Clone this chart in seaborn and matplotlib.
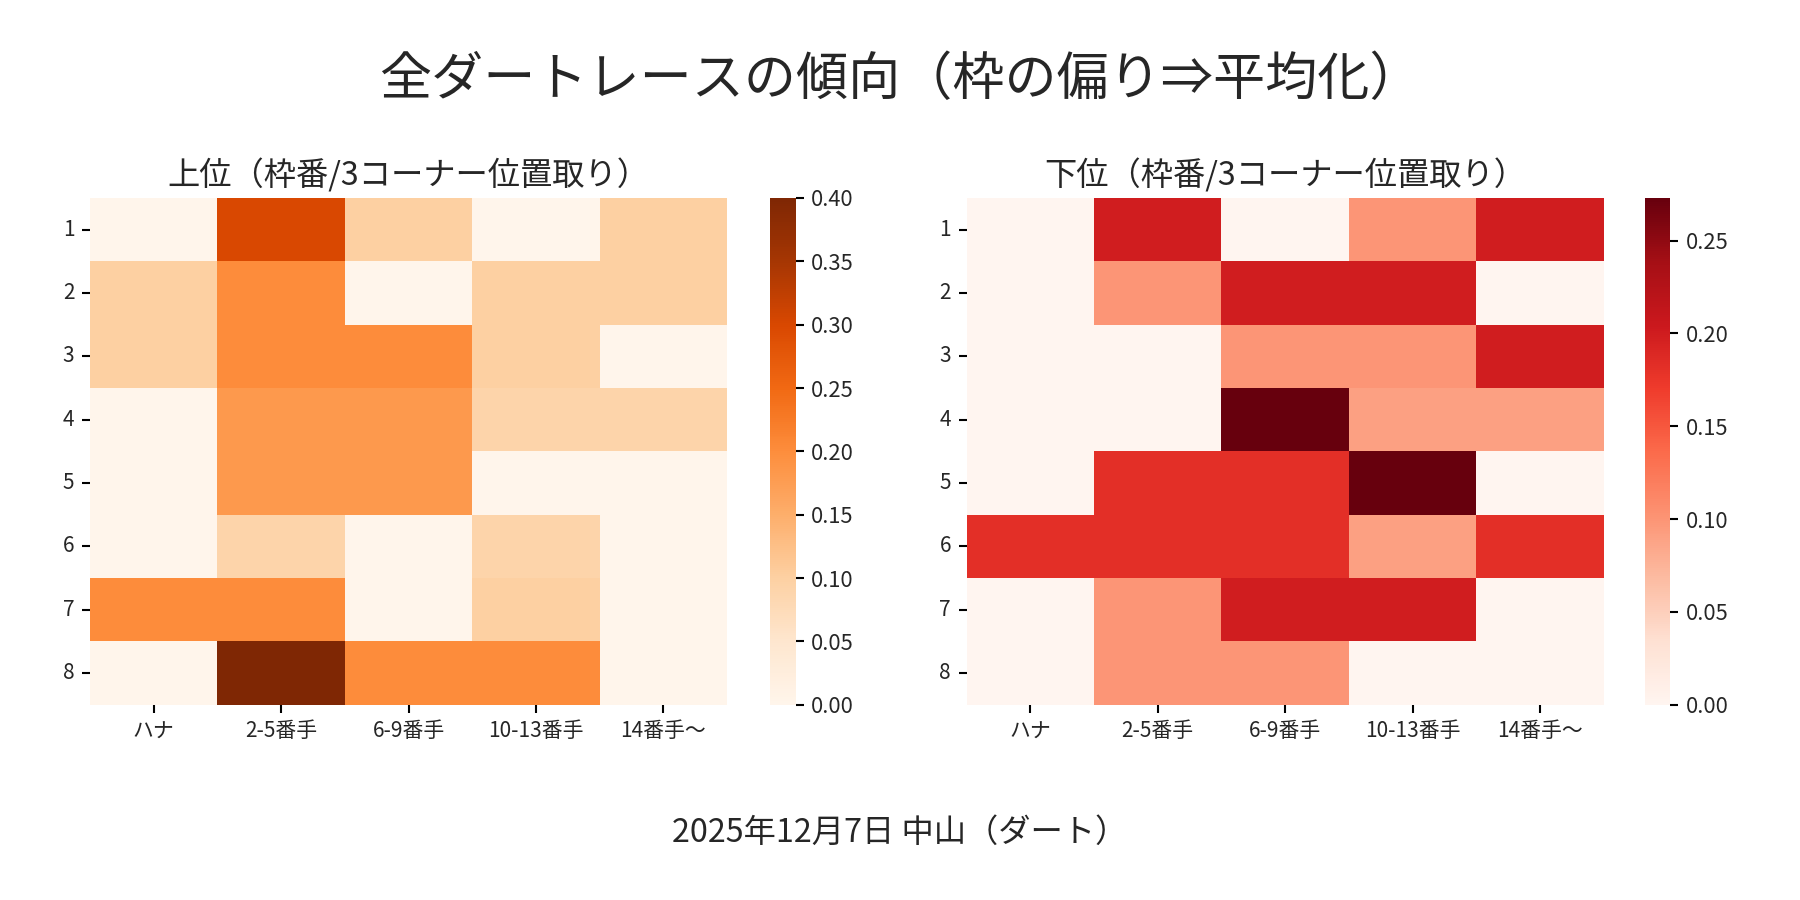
import numpy as np
import pandas as pd
import matplotlib
matplotlib.use("Agg")
import matplotlib.pyplot as plt
import seaborn as sns

sns.set_theme(style="white")
plt.rcParams['font.family'] = ['Noto Sans CJK JP', 'DejaVu Sans']

# Labels
waku = ["1", "2", "3", "4", "5", "6", "7", "8"]
positions = ["ハナ", "2-5番手", "6-9番手", "10-13番手", "14番手〜"]

# 上位 (top finishers) share by frame / 3rd corner position
top_rates = [
    [0.00, 0.30, 0.10, 0.00, 0.10],
    [0.10, 0.20, 0.00, 0.10, 0.10],
    [0.10, 0.20, 0.20, 0.10, 0.00],
    [0.00, 0.182, 0.182, 0.091, 0.091],
    [0.00, 0.182, 0.182, 0.00, 0.00],
    [0.00, 0.091, 0.00, 0.091, 0.00],
    [0.20, 0.20, 0.00, 0.10, 0.00],
    [0.00, 0.40, 0.20, 0.20, 0.00],
]

# 下位 (bottom finishers)
bottom_rates = [
    [0.00, 0.20, 0.00, 0.10, 0.20],
    [0.00, 0.10, 0.20, 0.20, 0.00],
    [0.00, 0.00, 0.10, 0.10, 0.20],
    [0.00, 0.00, 0.273, 0.091, 0.091],
    [0.00, 0.182, 0.182, 0.273, 0.00],
    [0.182, 0.182, 0.182, 0.091, 0.182],
    [0.00, 0.10, 0.20, 0.20, 0.00],
    [0.00, 0.10, 0.10, 0.00, 0.00],
]

df_top = pd.DataFrame(top_rates, index=waku, columns=positions)
df_bottom = pd.DataFrame(bottom_rates, index=waku, columns=positions)

fig = plt.figure(figsize=(12, 6), dpi=150)

ax1 = fig.add_axes([0.050, 0.217, 0.354, 0.563])
cax1 = fig.add_axes([0.428, 0.217, 0.014, 0.563])
ax2 = fig.add_axes([0.537, 0.217, 0.354, 0.563])
cax2 = fig.add_axes([0.914, 0.217, 0.014, 0.563])

sns.heatmap(df_top, cmap="Oranges", ax=ax1, cbar_ax=cax1)
sns.heatmap(df_bottom, cmap="Reds", ax=ax2, cbar_ax=cax2)

for ax, title in [(ax1, "上位（枠番/3コーナー位置取り）"), (ax2, "下位（枠番/3コーナー位置取り）")]:
    ax.set_title(title, fontsize=15.5)
    ax.set_xlabel("")
    ax.set_ylabel("")
    ax.tick_params(axis="both", labelsize=10, length=4, width=1, color="black", left=True, bottom=True)
    ax.set_yticklabels(ax.get_yticklabels(), rotation=0)
    ax.set_xticklabels(ax.get_xticklabels(), rotation=0)

for cax in [cax1, cax2]:
    cax.tick_params(labelsize=10.5, length=4, width=1, color="black", right=True)

fig.suptitle("全ダートレースの傾向（枠の偏り⇒平均化）", fontsize=25, y=0.94)
fig.text(0.5, 0.075, "2025年12月7日 中山（ダート）", ha="center", va="center", fontsize=15.5)

fig.savefig("out.png", dpi=150)
